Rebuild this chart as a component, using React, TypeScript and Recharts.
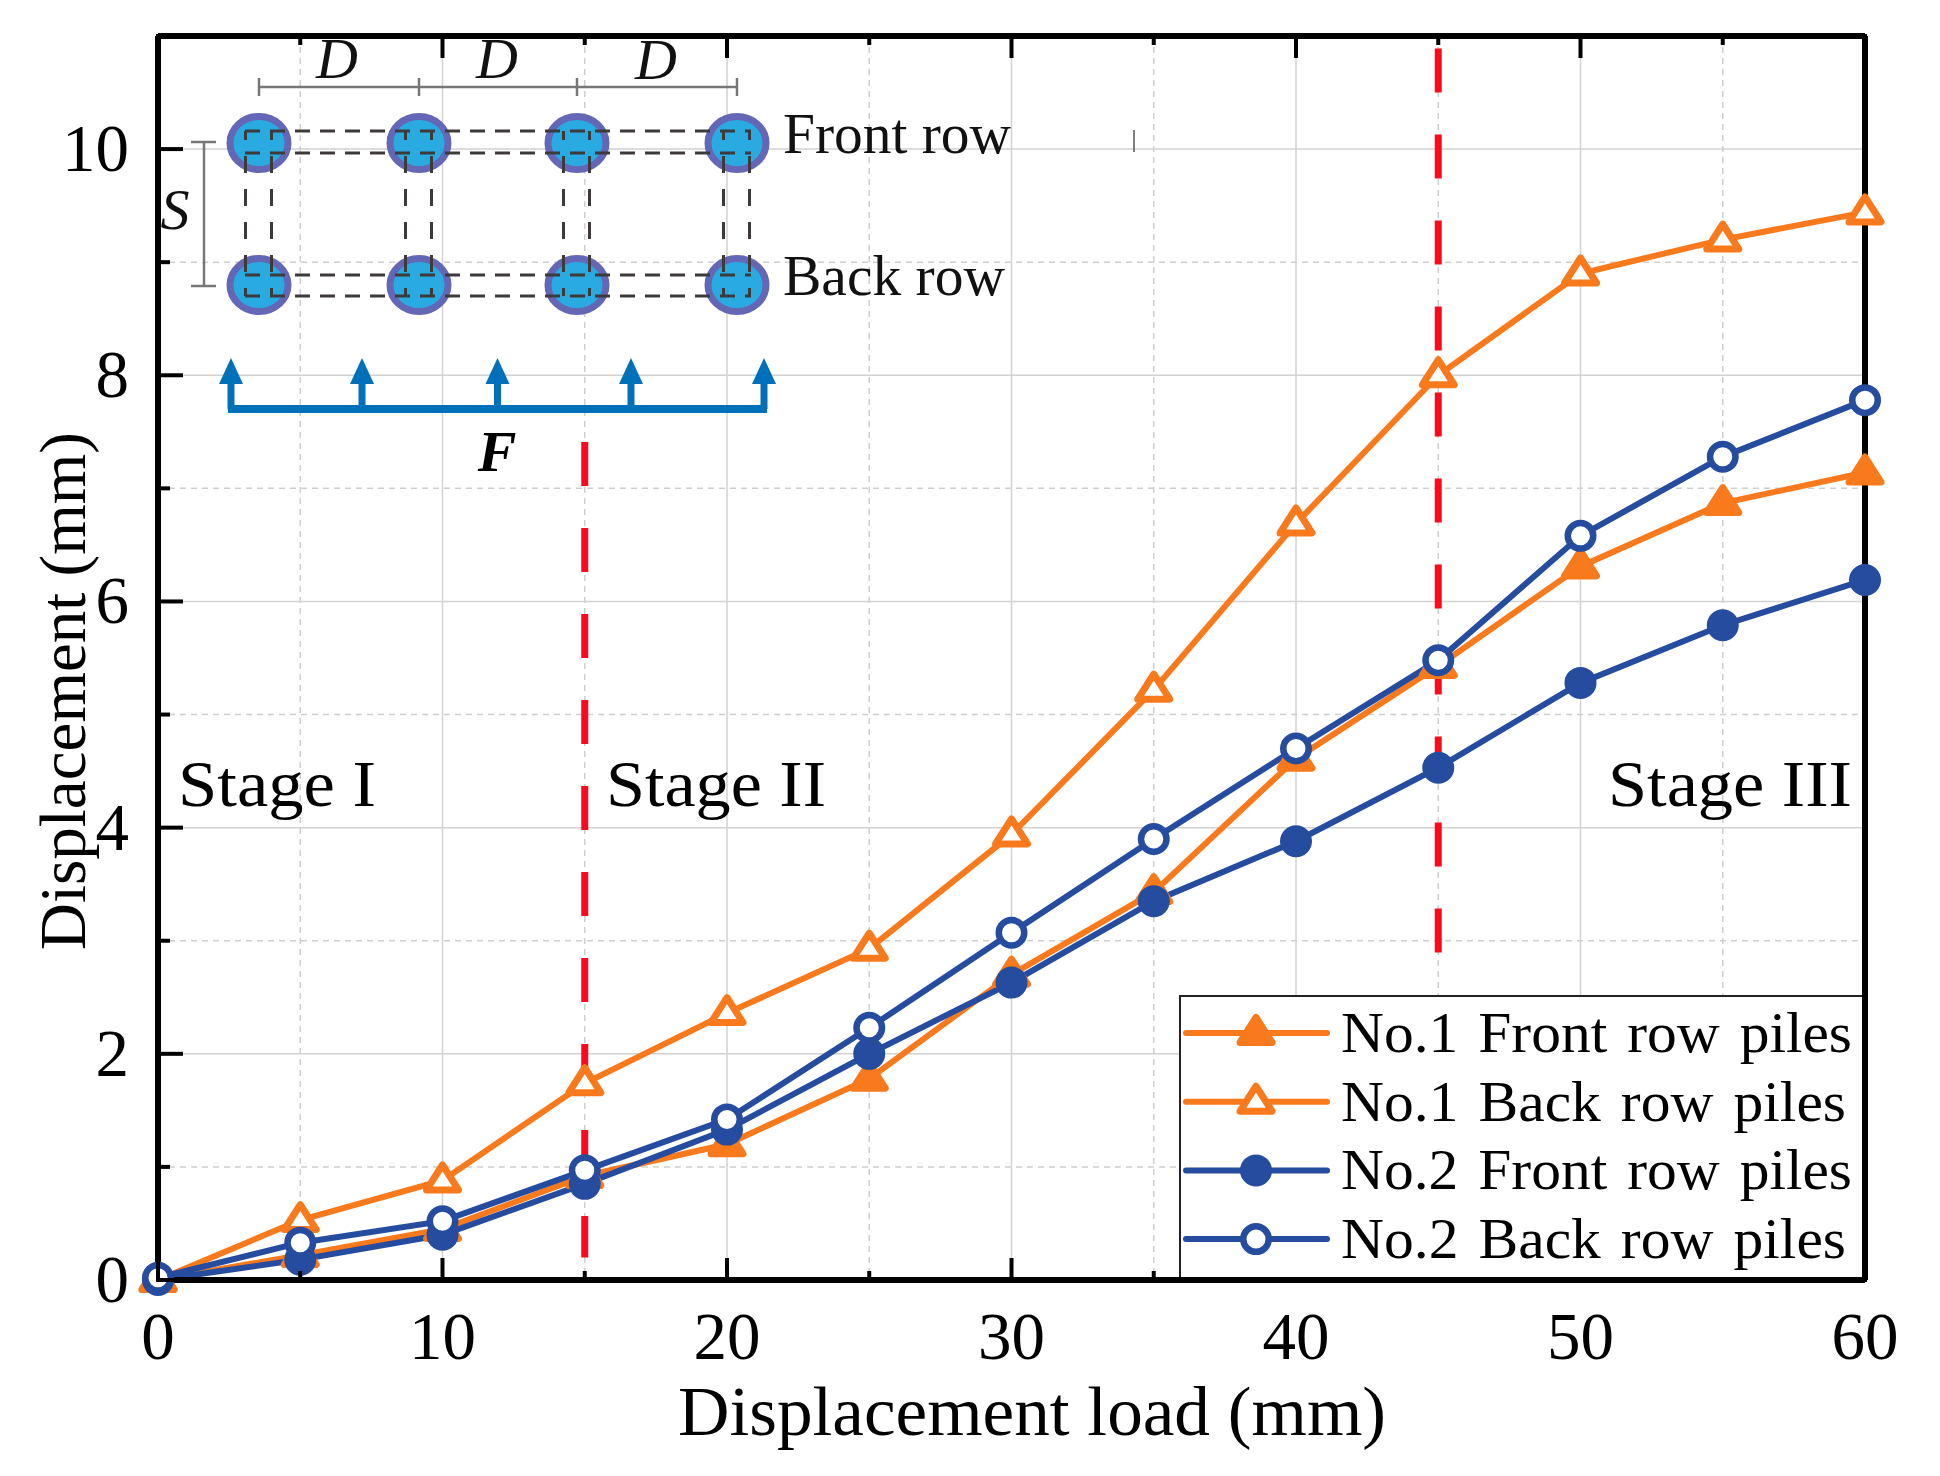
import React from 'react'
import { LineChart, Line, XAxis, YAxis, CartesianGrid, ReferenceLine, Legend, Label } from 'recharts'

const loads = [0, 5, 10, 15, 20, 25, 30, 35, 40, 45, 50, 55, 60]
const no1Front = [0, 0.22, 0.45, 0.92, 1.2, 1.78, 2.7, 3.43, 4.61, 5.43, 6.31, 6.87, 7.14]
const no1Back = [0, 0.53, 0.88, 1.74, 2.36, 2.93, 3.94, 5.22, 6.69, 8.0, 8.9, 9.2, 9.44]
const no2Front = [0, 0.18, 0.4, 0.85, 1.33, 2.0, 2.63, 3.35, 3.88, 4.53, 5.28, 5.79, 6.19]
const no2Back = [0.02, 0.33, 0.52, 0.97, 1.42, 2.23, 3.07, 3.9, 4.7, 5.48, 6.58, 7.28, 7.78]

const xTicks = [0, 5, 10, 15, 20, 25, 30, 35, 40, 45, 50, 55, 60]
const yTicks = [0, 1, 2, 3, 4, 5, 6, 7, 8, 9, 10, 11]
const xMajor = [10, 20, 30, 40, 50]
const xMinor = [5, 15, 25, 35, 45, 55]
const yMajor = [2, 4, 6, 8, 10]
const yMinor = [1, 3, 5, 7, 9]

const data = loads.map((load, i) => ({
  load,
  no1Front: no1Front[i],
  no1Back: no1Back[i],
  no2Front: no2Front[i],
  no2Back: no2Back[i],
}))

const ORANGE = '#f97a1c'
const BLUE = '#264ca0'
const SERIF = '"Liberation Serif", "Times New Roman", serif'

function Marker({ cx, cy, kind }: { cx: number; cy: number; kind: string }) {
  if (kind === 'no1Front' || kind === 'no1Back') {
    const open = kind === 'no1Back'
    const pts = `${cx},${cy - 15.5} ${cx + 16},${cy + 9.5} ${cx - 16},${cy + 9.5}`
    return (
      <polygon
        points={pts}
        fill={open ? '#fff' : ORANGE}
        stroke={ORANGE}
        strokeWidth={7}
        strokeLinejoin="round"
      />
    )
  }
  const open = kind === 'no2Back'
  return <circle cx={cx} cy={cy} r={12.75} fill={open ? '#fff' : BLUE} stroke={BLUE} strokeWidth={6.5} />
}

const dotFor = (kind: string) => (props: any) => <Marker key={props.index} cx={props.cx} cy={props.cy} kind={kind} />

const xTickBottom = ({ x, y, payload }: any) => {
  const major = payload.value % 10 === 0
  return (
    <g>
      <line x1={x} x2={x} y1={y} y2={y - (major ? 24 : 11)} stroke="#000" strokeWidth={4} />
      {major && (
        <text x={x} y={y + 77} textAnchor="middle" fontFamily={SERIF} fontSize={67} fill="#000">
          {payload.value}
        </text>
      )}
    </g>
  )
}

const xTickTop = ({ x, y, payload }: any) => (
  <line x1={x} x2={x} y1={y} y2={y + (payload.value % 10 === 0 ? 24 : 11)} stroke="#000" strokeWidth={4} />
)

const yTickLeft = ({ x, y, payload }: any) => {
  const major = payload.value % 2 === 0
  return (
    <g>
      <line x1={x} x2={x + (major ? 27 : 14)} y1={y} y2={y} stroke="#000" strokeWidth={4} />
      {major && (
        <text x={x - 27} y={y + 22} textAnchor="end" fontFamily={SERIF} fontSize={67} fill="#000">
          {payload.value}
        </text>
      )}
    </g>
  )
}

const yTickRight = ({ x, y, payload }: any) => (
  <line x1={x} x2={x - (payload.value % 2 === 0 ? 27 : 14)} y1={y} y2={y} stroke="#000" strokeWidth={4} />
)

const legendRows = [
  { kind: 'no1Front', color: ORANGE, label: 'No.1 Front row piles', width: 511 },
  { kind: 'no1Back', color: ORANGE, label: 'No.1 Back row piles', width: 505 },
  { kind: 'no2Front', color: BLUE, label: 'No.2 Front row piles', width: 511 },
  { kind: 'no2Back', color: BLUE, label: 'No.2 Back row piles', width: 505 },
]

function LegendBox() {
  return (
    <svg width={683} height={282} style={{ display: 'block' }}>
      <rect x={1} y={1} width={690} height={290} fill="#fff" stroke="#222" strokeWidth={2} />
      {legendRows.map((r, i) => {
        const y = 38 + i * 68.7
        return (
          <g key={r.kind}>
            <line x1={7} x2={148} y1={y} y2={y} stroke={r.color} strokeWidth={6} strokeLinecap="round" />
            <Marker cx={77} cy={y} kind={r.kind} />
            <text
              x={162}
              y={y + 19}
              fontFamily={SERIF}
              fontSize={58}
              wordSpacing={5}
              fill="#000"
              textLength={r.width}
              lengthAdjust="spacingAndGlyphs"
            >
              {r.label}
            </text>
          </g>
        )
      })}
    </svg>
  )
}

const pileX = [259, 419, 577, 737]
const pileY = [143, 285]
const arrowX = [231, 362, 497.5, 631, 764]
const stages = [
  { label: 'Stage I', x: 178, width: 198 },
  { label: 'Stage II', x: 606, width: 220 },
  { label: 'Stage III', x: 1608, width: 244 },
]

function Inset() {
  return (
    <svg width={1940} height={1476} style={{ position: 'absolute', left: 0, top: 0, pointerEvents: 'none' }}>
      {/* pile layout sketch */}
      <g stroke="#777" strokeWidth={2.5}>
        <line x1={259} x2={737} y1={87} y2={87} />
        {pileX.map((x) => (
          <line key={x} x1={x} x2={x} y1={78} y2={96} />
        ))}
        <line x1={204} x2={204} y1={142} y2={286} />
        <line x1={191} x2={216} y1={142} y2={142} />
        <line x1={191} x2={216} y1={286} y2={286} />
      </g>
      <g fontFamily={SERIF} fontStyle="italic" fontSize={58} fill="#111" textAnchor="middle">
        <text x={337} y={78}>D</text>
        <text x={497} y={78}>D</text>
        <text x={656} y={79}>D</text>
        <text x={175} y={229}>S</text>
      </g>
      {pileY.map((y) =>
        pileX.map((x) => (
          <ellipse key={`${x}-${y}`} cx={x} cy={y} rx={29} ry={26.5} fill="#29abe2" stroke="#6466b6" strokeWidth={7} />
        ))
      )}
      {[131, 153, 275, 296].map((y) => (
        <line key={y} x1={245} x2={751} y1={y} y2={y} stroke="#3e3a3a" strokeWidth={3} strokeDasharray="15 10" />
      ))}
      {pileX.flatMap((x) => [x - 13.5, x + 12.5]).map((x) => (
        <line
          key={x}
          x1={x}
          x2={x}
          y1={131}
          y2={296}
          stroke="#3e3a3a"
          strokeWidth={3}
          strokeDasharray="17 16"
          strokeDashoffset={8}
        />
      ))}
      <text x={783} y={153} fontFamily={SERIF} fontSize={56} fill="#111" textLength={228} lengthAdjust="spacingAndGlyphs">Front row</text>
      <text x={783} y={295} fontFamily={SERIF} fontSize={56} fill="#111" textLength={222} lengthAdjust="spacingAndGlyphs">Back row</text>
      <line x1={1134} x2={1134} y1={130} y2={152} stroke="#555" strokeWidth={1.5} />
      {/* load arrows */}
      <line x1={228} x2={767} y1={409} y2={409} stroke="#0070bb" strokeWidth={8} />
      {arrowX.map((x) => (
        <g key={x}>
          <line x1={x} x2={x} y1={409} y2={378} stroke="#0070bb" strokeWidth={7} />
          <polygon points={`${x},358 ${x + 12},384 ${x - 12},384`} fill="#0070bb" />
        </g>
      ))}
      <text x={497} y={471} fontFamily={SERIF} fontStyle="italic" fontWeight="bold" fontSize={58} fill="#000" textAnchor="middle">F</text>
      {/* stage labels */}
      <g fontFamily={SERIF} fontSize={66} fill="#000">
        {stages.map((s) => (
          <text key={s.label} x={s.x} y={806} textLength={s.width} lengthAdjust="spacingAndGlyphs">
            {s.label}
          </text>
        ))}
      </g>
    </svg>
  )
}

export default function App() {
  return (
    <div style={{ position: 'absolute', left: 0, top: 0, width: 1940, height: 1476, background: '#fff', overflow: 'hidden' }}>
      <LineChart width={1940} height={1476} data={data} margin={{ top: 35, right: 74, left: 0, bottom: 0 }}>
        <CartesianGrid horizontalValues={yMajor} verticalValues={xMajor} stroke="#d2d2d2" strokeWidth={1.5} />
        <CartesianGrid horizontalValues={yMinor} verticalValues={xMinor} stroke="#cfcfcf" strokeWidth={1.5} strokeDasharray="6 5" />
        <XAxis
          dataKey="load"
          type="number"
          domain={[0, 60]}
          ticks={xTicks}
          interval={0}
          height={196}
          tickSize={0}
          tickLine={false}
          axisLine={{ stroke: '#000', strokeWidth: 6 }}
          tick={xTickBottom}
        >
          <Label
            content={() => (
              <text x={1032} y={1435} textAnchor="middle" fontFamily={SERIF} fontSize={70} fill="#000" textLength={708} lengthAdjust="spacingAndGlyphs">
                Displacement load (mm)
              </text>
            )}
          />
        </XAxis>
        <XAxis
          xAxisId="top"
          orientation="top"
          dataKey="load"
          type="number"
          domain={[0, 60]}
          ticks={xTicks}
          interval={0}
          height={1}
          tickSize={0}
          tickLine={false}
          axisLine={{ stroke: '#000', strokeWidth: 6 }}
          tick={xTickTop}
        />
        <YAxis
          type="number"
          domain={[0, 11]}
          ticks={yTicks}
          interval={0}
          width={158}
          tickSize={0}
          tickLine={false}
          axisLine={{ stroke: '#000', strokeWidth: 6 }}
          tick={yTickLeft}
        >
          <Label
            content={() => (
              <text
                x={0}
                y={0}
                transform="translate(85 691) rotate(-90)"
                textAnchor="middle"
                fontFamily={SERIF}
                fontSize={65}
                fill="#000"
              >
                Displacement (mm)
              </text>
            )}
          />
        </YAxis>
        <YAxis
          yAxisId="right"
          orientation="right"
          type="number"
          domain={[0, 11]}
          ticks={yTicks}
          interval={0}
          width={1}
          tickSize={0}
          tickLine={false}
          axisLine={{ stroke: '#000', strokeWidth: 6 }}
          tick={yTickRight}
        />
        <ReferenceLine
          segment={[{ x: 15, y: 7.41 }, { x: 15, y: 0.2 }]}
          stroke="#fb0a1e"
          strokeWidth={7}
          strokeDasharray="44 42"
        />
        <ReferenceLine
          segment={[{ x: 45, y: 10.89 }, { x: 45, y: 2.56 }]}
          stroke="#fb0a1e"
          strokeWidth={7}
          strokeDasharray="44 42"
        />
        <Line dataKey="no1Front" stroke={ORANGE} strokeWidth={6} dot={dotFor('no1Front')} isAnimationActive={false} />
        <Line dataKey="no1Back" stroke={ORANGE} strokeWidth={6} dot={dotFor('no1Back')} isAnimationActive={false} />
        <Line dataKey="no2Front" stroke={BLUE} strokeWidth={6} dot={dotFor('no2Front')} isAnimationActive={false} />
        <Line dataKey="no2Back" stroke={BLUE} strokeWidth={6} dot={dotFor('no2Back')} isAnimationActive={false} />
        <Legend
          layout="horizontal"
          align="center"
          verticalAlign="middle"
          wrapperStyle={{ left: 1179, top: 995, width: 683, height: 282 }}
          content={() => <LegendBox />}
        />
      </LineChart>
      <Inset />
    </div>
  )
}
